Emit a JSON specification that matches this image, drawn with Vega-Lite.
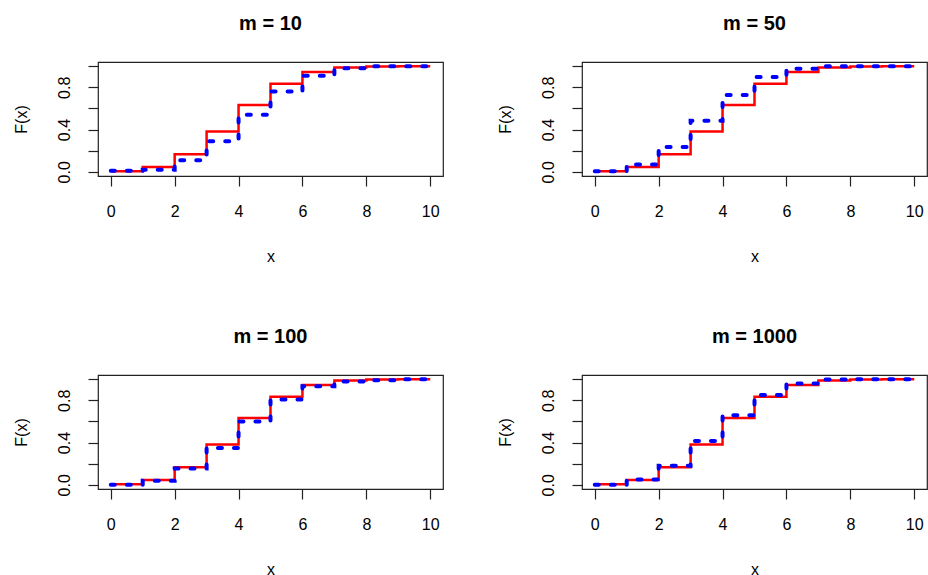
{
  "$schema": "https://vega.github.io/schema/vega-lite/v6.json",
  "padding": {"left": 12, "top": 13, "right": 0, "bottom": 0},
  "background": "white",
  "datasets": {
    "cdf": [
      {"series": "true", "m": 0, "x": 0, "F": 0.006},
      {"series": "true", "m": 0, "x": 1, "F": 0.046},
      {"series": "true", "m": 0, "x": 2, "F": 0.167},
      {"series": "true", "m": 0, "x": 3, "F": 0.382},
      {"series": "true", "m": 0, "x": 4, "F": 0.633},
      {"series": "true", "m": 0, "x": 5, "F": 0.834},
      {"series": "true", "m": 0, "x": 6, "F": 0.945},
      {"series": "true", "m": 0, "x": 7, "F": 0.988},
      {"series": "true", "m": 0, "x": 8, "F": 0.998},
      {"series": "true", "m": 0, "x": 9, "F": 1.0},
      {"series": "true", "m": 0, "x": 10, "F": 1.0},
      {"series": "sim", "m": 10, "x": 0, "F": 0.01},
      {"series": "sim", "m": 10, "x": 1, "F": 0.02},
      {"series": "sim", "m": 10, "x": 2, "F": 0.11},
      {"series": "sim", "m": 10, "x": 3, "F": 0.29},
      {"series": "sim", "m": 10, "x": 4, "F": 0.54},
      {"series": "sim", "m": 10, "x": 5, "F": 0.76},
      {"series": "sim", "m": 10, "x": 6, "F": 0.91},
      {"series": "sim", "m": 10, "x": 7, "F": 0.98},
      {"series": "sim", "m": 10, "x": 8, "F": 1.0},
      {"series": "sim", "m": 10, "x": 9, "F": 1.0},
      {"series": "sim", "m": 10, "x": 10, "F": 1.0},
      {"series": "sim", "m": 50, "x": 0, "F": 0.006},
      {"series": "sim", "m": 50, "x": 1, "F": 0.07},
      {"series": "sim", "m": 50, "x": 2, "F": 0.235},
      {"series": "sim", "m": 50, "x": 3, "F": 0.483},
      {"series": "sim", "m": 50, "x": 4, "F": 0.727},
      {"series": "sim", "m": 50, "x": 5, "F": 0.898},
      {"series": "sim", "m": 50, "x": 6, "F": 0.975},
      {"series": "sim", "m": 50, "x": 7, "F": 1.0},
      {"series": "sim", "m": 50, "x": 8, "F": 1.0},
      {"series": "sim", "m": 50, "x": 9, "F": 1.0},
      {"series": "sim", "m": 50, "x": 10, "F": 1.0},
      {"series": "sim", "m": 100, "x": 0, "F": 0.0},
      {"series": "sim", "m": 100, "x": 1, "F": 0.038},
      {"series": "sim", "m": 100, "x": 2, "F": 0.154},
      {"series": "sim", "m": 100, "x": 3, "F": 0.349},
      {"series": "sim", "m": 100, "x": 4, "F": 0.6},
      {"series": "sim", "m": 100, "x": 5, "F": 0.808},
      {"series": "sim", "m": 100, "x": 6, "F": 0.934},
      {"series": "sim", "m": 100, "x": 7, "F": 0.978},
      {"series": "sim", "m": 100, "x": 8, "F": 0.99},
      {"series": "sim", "m": 100, "x": 9, "F": 1.0},
      {"series": "sim", "m": 100, "x": 10, "F": 1.0},
      {"series": "sim", "m": 1000, "x": 0, "F": 0.0},
      {"series": "sim", "m": 1000, "x": 1, "F": 0.05},
      {"series": "sim", "m": 1000, "x": 2, "F": 0.18},
      {"series": "sim", "m": 1000, "x": 3, "F": 0.415},
      {"series": "sim", "m": 1000, "x": 4, "F": 0.658},
      {"series": "sim", "m": 1000, "x": 5, "F": 0.851},
      {"series": "sim", "m": 1000, "x": 6, "F": 0.959},
      {"series": "sim", "m": 1000, "x": 7, "F": 0.997},
      {"series": "sim", "m": 1000, "x": 8, "F": 1.0},
      {"series": "sim", "m": 1000, "x": 9, "F": 1.0},
      {"series": "sim", "m": 1000, "x": 10, "F": 1.0}
    ]
  },
  "data": {"name": "cdf"},
  "columns": 2,
  "spacing": {"row": 199, "column": 139},
  "bounds": "flush",
  "concat": [
    {
      "title": "m = 10",
      "width": 345, "height": 114,
      "encoding": {
        "x": {"field": "x", "type": "quantitative", "title": "x", "scale": {"domain": [-0.4, 10.4], "nice": false, "zero": false}, "axis": {"values": [0, 2, 4, 6, 8, 10]}},
        "y": {"field": "F", "type": "quantitative", "title": "F(x)", "scale": {"domain": [-0.04, 1.04], "nice": false, "zero": false}, "axis": {"values": [0, 0.2, 0.4, 0.6, 0.8, 1.0], "labelExpr": "datum.value == 0 || datum.value == 0.4 || datum.value == 0.8 ? format(datum.value, '.1f') : ''"}}
      },
      "layer": [
        {"transform": [{"filter": "datum.series == 'true'"}], "mark": {"type": "line", "interpolate": "step-after", "color": "#ff0000", "strokeWidth": 2.5}},
        {"transform": [{"filter": "datum.m == 10"}], "mark": {"type": "line", "interpolate": "step-after", "color": "#0000ff", "strokeWidth": 4, "strokeDash": [4, 12], "strokeCap": "round"}}
      ]
    },
    {
      "title": "m = 50",
      "width": 345, "height": 114,
      "encoding": {
        "x": {"field": "x", "type": "quantitative", "title": "x", "scale": {"domain": [-0.4, 10.4], "nice": false, "zero": false}, "axis": {"values": [0, 2, 4, 6, 8, 10]}},
        "y": {"field": "F", "type": "quantitative", "title": "F(x)", "scale": {"domain": [-0.04, 1.04], "nice": false, "zero": false}, "axis": {"values": [0, 0.2, 0.4, 0.6, 0.8, 1.0], "labelExpr": "datum.value == 0 || datum.value == 0.4 || datum.value == 0.8 ? format(datum.value, '.1f') : ''"}}
      },
      "layer": [
        {"transform": [{"filter": "datum.series == 'true'"}], "mark": {"type": "line", "interpolate": "step-after", "color": "#ff0000", "strokeWidth": 2.5}},
        {"transform": [{"filter": "datum.m == 50"}], "mark": {"type": "line", "interpolate": "step-after", "color": "#0000ff", "strokeWidth": 4, "strokeDash": [4, 12], "strokeCap": "round"}}
      ]
    },
    {
      "title": "m = 100",
      "width": 345, "height": 114,
      "encoding": {
        "x": {"field": "x", "type": "quantitative", "title": "x", "scale": {"domain": [-0.4, 10.4], "nice": false, "zero": false}, "axis": {"values": [0, 2, 4, 6, 8, 10]}},
        "y": {"field": "F", "type": "quantitative", "title": "F(x)", "scale": {"domain": [-0.04, 1.04], "nice": false, "zero": false}, "axis": {"values": [0, 0.2, 0.4, 0.6, 0.8, 1.0], "labelExpr": "datum.value == 0 || datum.value == 0.4 || datum.value == 0.8 ? format(datum.value, '.1f') : ''"}}
      },
      "layer": [
        {"transform": [{"filter": "datum.series == 'true'"}], "mark": {"type": "line", "interpolate": "step-after", "color": "#ff0000", "strokeWidth": 2.5}},
        {"transform": [{"filter": "datum.m == 100"}], "mark": {"type": "line", "interpolate": "step-after", "color": "#0000ff", "strokeWidth": 4, "strokeDash": [4, 12], "strokeCap": "round"}}
      ]
    },
    {
      "title": "m = 1000",
      "width": 345, "height": 114,
      "encoding": {
        "x": {"field": "x", "type": "quantitative", "title": "x", "scale": {"domain": [-0.4, 10.4], "nice": false, "zero": false}, "axis": {"values": [0, 2, 4, 6, 8, 10]}},
        "y": {"field": "F", "type": "quantitative", "title": "F(x)", "scale": {"domain": [-0.04, 1.04], "nice": false, "zero": false}, "axis": {"values": [0, 0.2, 0.4, 0.6, 0.8, 1.0], "labelExpr": "datum.value == 0 || datum.value == 0.4 || datum.value == 0.8 ? format(datum.value, '.1f') : ''"}}
      },
      "layer": [
        {"transform": [{"filter": "datum.series == 'true'"}], "mark": {"type": "line", "interpolate": "step-after", "color": "#ff0000", "strokeWidth": 2.5}},
        {"transform": [{"filter": "datum.m == 1000"}], "mark": {"type": "line", "interpolate": "step-after", "color": "#0000ff", "strokeWidth": 4, "strokeDash": [4, 12], "strokeCap": "round"}}
      ]
    }
  ],
  "config": {
    "font": "Liberation Sans",
    "view": {"stroke": "#222", "strokeWidth": 1.2},
    "axis": {
      "domain": false, "grid": false, "ticks": true, "tickColor": "#222", "tickSize": 10, "tickWidth": 1.2,
      "labelFont": "Liberation Sans", "labelFontSize": 16, "labelColor": "#000",
      "titleFont": "Liberation Sans", "titleFontSize": 16, "titleFontWeight": "normal", "titleColor": "#000"
    },
    "axisX": {"labelBaseline": "top", "labelPadding": 17, "titlePadding": 29},
    "axisY": {"labelAngle": -90, "labelAlign": "center", "labelBaseline": "bottom", "labelPadding": 16, "titlePadding": 27},
    "title": {"font": "Liberation Sans", "fontSize": 20, "fontWeight": "bold", "color": "#000", "anchor": "middle", "offset": 24}
  }
}
